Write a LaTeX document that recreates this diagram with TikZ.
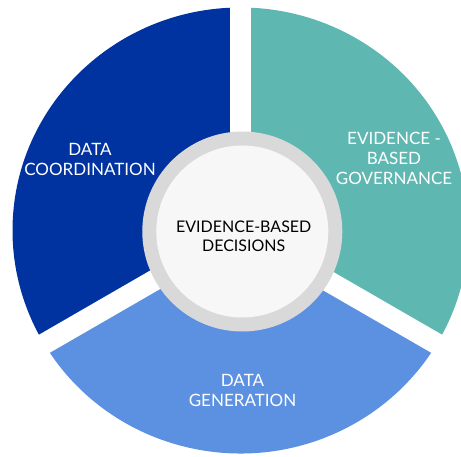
\documentclass[tikz,border=0pt]{standalone}
\usepackage{fontspec}
\setmainfont{Lato}
\usepackage{tikz}

\definecolor{coordblue}{RGB}{0,51,160}
\definecolor{govteal}{RGB}{94,184,177}
\definecolor{genblue}{RGB}{92,145,226}
\definecolor{ringgray}{RGB}{217,217,217}
\definecolor{hubwhite}{RGB}{247,247,247}

\begin{document}
\begin{tikzpicture}[x=1pt, y=1pt,
    label text/.style={text=white, align=center, inner sep=0pt,
        font=\fontsize{17}{20}\selectfont},
    gap/.style={color=white, line width=21pt}]
    \useasboundingbox (0,0) rectangle (461,457);
    \clip (0,0) rectangle (461,457);
    \coordinate (O) at (240.5,226.5);

    \fill[color=coordblue] (O) -- ++(90:228pt and 223pt)
        arc[start angle=90, end angle=210, x radius=228pt, y radius=223pt] -- cycle;
    \fill[color=genblue] (O) -- ++(210:228pt and 223pt)
        arc[start angle=210, end angle=330, x radius=228pt, y radius=223pt] -- cycle;
    \fill[color=govteal] (O) -- ++(330:228pt and 223pt)
        arc[start angle=330, end angle=450, x radius=228pt, y radius=223pt] -- cycle;

    \draw[gap] (O) -- ++(90:260pt);
    \draw[gap] (O) -- ++(210:260pt);
    \draw[gap] (O) -- ++(330:260pt);

    \node[circle, fill=ringgray, minimum size=200pt, inner sep=0pt] (ring) at (242.3,225.5) {};
    \node[circle, fill=hubwhite, minimum size=172pt, inner sep=0pt] (hub) at (ring) {};

    \node[label text] (coord) at (90,298) {DATA\\COORDINATION};
    \node[label text] (gov) at (394,298.5) {EVIDENCE -\\BASED\\GOVERNANCE};
    \node[label text] (gen) at (242.5,67) {DATA\\GENERATION};
    \node[label text, text=black, font=\fontsize{16}{19}\selectfont] (dec) at (243.7,221)
        {EVIDENCE-BASED\\DECISIONS};
\end{tikzpicture}
\end{document}
